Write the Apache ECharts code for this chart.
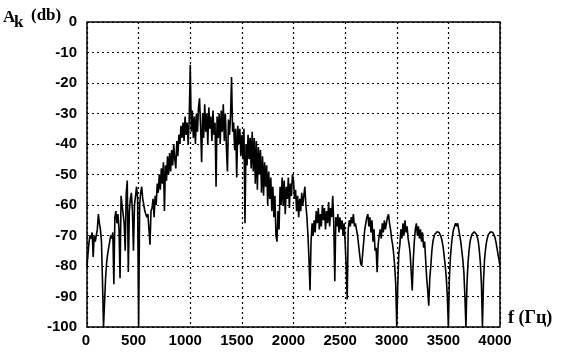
<!DOCTYPE html>
<html>
<head>
<meta charset="utf-8">
<script src="https://cdn.jsdelivr.net/npm/echarts/dist/echarts.min.js"></script>
<style>
  html, body { margin: 0; padding: 0; background: #fff; }
  #chart { width: 561px; height: 357px; }
</style>
</head>
<body>
<div id="chart"></div>
<script>
// спектр, шаг по частоте 10 Гц
var freqStep = 10;

// 0 .. 990 Гц
var ampA = [
    -80, -76, -72, -70, -71, -69, -77, -70, -72, -70,
    -68, -63, -66, -68, -72, -85, -100, -92, -84, -79,
    -76, -74, -72, -70, -71, -69, -86, -64, -62, -66,
    -63, -68, -84, -57, -60, -63, -66, -75, -56, -52,
    -82, -62, -58, -56, -62, -75, -60, -57, -54, -58,
    -100, -60, -56, -54, -58, -60, -62, -63, -64, -63,
    -63, -73, -62, -61, -58, -64, -57, -60, -53, -56,
    -50, -55, -48, -53, -46, -62, -47, -52, -44, -50,
    -43, -49, -42, -47, -40, -45, -48, -39, -44, -37,
    -40, -34, -38, -33, -39, -31, -37, -33, -40, -32
];
// 1000 .. 1990 Гц
var ampB = [
    -14, -36, -29, -38, -31, -40, -30, -36, -28, -25,
    -34, -46, -30, -38, -27, -36, -30, -40, -28, -35,
    -31, -39, -29, -37, -33, -54, -31, -38, -30, -40,
    -29, -36, -27, -39, -30, -41, -49, -32, -37, -31,
    -18, -36, -33, -42, -35, -51, -34, -40, -35, -44,
    -37, -45, -35, -66, -40, -47, -37, -45, -38, -48,
    -36, -49, -38, -53, -39, -55, -41, -50, -42, -56,
    -44, -57, -46, -54, -47, -60, -49, -58, -51, -62,
    -54, -64, -57, -70, -72, -62, -68, -54, -60, -51,
    -60, -52, -63, -54, -58, -51, -61, -53, -57, -50
];
// 2000 .. 2990 Гц
var ampC = [
    -52, -58, -55, -62, -57, -64, -58, -62, -56, -60,
    -57, -54, -60, -64, -70, -78, -88, -72, -66, -70,
    -65, -69, -62, -66, -61, -68, -63, -67, -60, -65,
    -61, -68, -62, -66, -59, -67, -61, -64, -57, -66,
    -85, -64, -67, -63, -69, -64, -68, -65, -70, -66,
    -72, -80, -91, -68, -65, -67, -64, -66, -63, -67,
    -66, -68, -70, -73, -76, -79, -80, -76, -72, -68,
    -66, -64, -63, -67, -64, -69, -65, -72, -68, -75,
    -74, -82, -73, -70, -68, -71, -66, -69, -65, -68,
    -66, -64, -63, -66, -68, -71, -73, -76, -80, -86
];
// 3000 .. 4000 Гц
var ampD = [
    -100, -86, -76, -73, -68, -71, -66, -70, -65, -69,
    -67, -71, -73, -76, -82, -88, -78, -72, -68, -66,
    -70, -67, -71, -68, -72, -69, -74, -72, -78, -84,
    -88, -93, -84, -80, -75, -72, -70.5, -69.5, -69, -68.8,
    -69, -69, -69.5, -70.5, -72, -74, -77, -80, -84, -90,
    -100, -84, -77, -73, -70, -68, -67, -66, -67, -66,
    -68, -70, -72, -75, -78, -82, -90, -100, -86, -79,
    -75, -72, -70.5, -69.5, -69, -68.8, -69, -69.5, -70.5, -72,
    -75, -79, -86, -100, -85, -78, -74.5, -72, -70.5, -69.5,
    -69, -68.8, -69, -69, -69.5, -70.5, -72, -74, -76, -78,
    -80
];

var xTicks = [0, 500, 1000, 1500, 2000, 2500, 3000, 3500, 4000];
var yTicks = [-100, -90, -80, -70, -60, -50, -40, -30, -20, -10, 0];

var myChart = echarts.init(document.getElementById('chart'));

var amp = ampA.concat(ampB, ampC, ampD);
var points = [];
for (var i = 0; i < amp.length; i++) {
    points.push([i * freqStep, amp[i]]);
}

var tickFont = {
    color: '#000',
    fontFamily: 'Liberation Sans',
    fontWeight: 'bold',
    fontSize: 15
};
var dotted = { color: '#000', width: 1.2, type: [2, 3] };

var options = {
    animation: false,
    backgroundColor: '#fff',
    grid: {
        left: 87, right: 61, top: 22, bottom: 30,
        show: true,
        borderColor: '#000',
        borderWidth: 1.5
    },
    xAxis: {
        type: 'value',
        min: xTicks[0],
        max: xTicks[xTicks.length - 1],
        interval: xTicks[1] - xTicks[0],
        axisLine: { show: false },
        axisTick: { show: false },
        axisLabel: Object.assign({
            margin: 6,
            // подписи чуть левее линий сетки, как в оригинале
            formatter: function (v) { return v === 0 ? '{z|0}' : '{n|' + v + '}'; },
            rich: {
                z: { fontFamily: 'Liberation Sans', fontWeight: 'bold', fontSize: 15, color: '#000', padding: [0, 2, 0, 0] },
                n: { fontFamily: 'Liberation Sans', fontWeight: 'bold', fontSize: 15, color: '#000', padding: [0, 10, 0, 0] }
            }
        }, tickFont),
        splitLine: { show: true, lineStyle: dotted }
    },
    yAxis: {
        type: 'value',
        min: yTicks[0],
        max: yTicks[yTicks.length - 1],
        interval: yTicks[1] - yTicks[0],
        axisLine: { show: false },
        axisTick: { show: false },
        axisLabel: Object.assign({ margin: 10 }, tickFont),
        splitLine: { show: true, lineStyle: dotted }
    },
    graphic: [
        { type: 'text', x: 3, y: 9, style: { text: 'A', font: 'bold 17px "Liberation Serif"', fill: '#000' } },
        { type: 'text', x: 14, y: 14, style: { text: 'k', font: 'bold 17px "Liberation Serif"', fill: '#000' } },
        { type: 'text', x: 31, y: 7, style: { text: '(db)', font: 'bold 17px "Liberation Serif"', fill: '#000' } },
        { type: 'text', x: 508, y: 309, style: { text: 'f (Гц)', font: 'bold 18px "Liberation Serif"', fill: '#000' } }
    ],
    series: [{
        type: 'line',
        data: points,
        showSymbol: false,
        smooth: false,
        lineStyle: { color: '#000', width: 1.6 }
    }]
};
myChart.setOption(options, true);
</script>
</body>
</html>
